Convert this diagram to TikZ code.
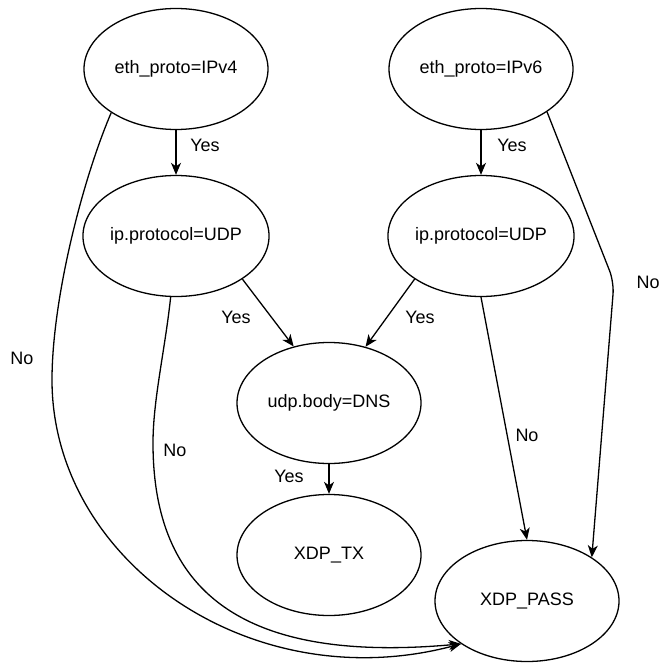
\documentclass[tikz,border=0pt]{standalone}
\usepackage{fontspec}
\setmainfont{Liberation Sans}
\usetikzlibrary{shapes.geometric,arrows.meta}
\begin{document}
\begin{tikzpicture}[x=1pt,y=-1pt,
  stnode/.style={ellipse, draw, line width=1.3pt, minimum width=184pt, minimum height=121pt, inner sep=0pt, font=\fontsize{18}{21}\selectfont, fill=white},
  arr/.style={line width=1.3pt, -{Stealth[length=12pt,width=10pt,inset=3.5pt]}},
  lbl/.style={font=\fontsize{18}{21}\selectfont, inner sep=0pt}]
\useasboundingbox[fill=white] (0,0) rectangle (660,666);

\node[stnode] (e4) at (176,69) {eth\_proto=IPv4};
\node[stnode] (e6) at (481,69) {eth\_proto=IPv6};
\node[stnode] (ipL) at (176,236) {ip.protocol=UDP};
\node[stnode] (ipR) at (481,236) {ip.protocol=UDP};
\node[stnode] (dns) at (329,403) {udp.body=DNS};
\node[stnode] (tx) at (329,555) {XDP\_TX};
\node[stnode] (pass) at (527,601) {XDP\_PASS};

% Yes edges
\draw[arr] (e4.south) -- (ipL.north);
\draw[arr] (e6.south) -- (ipR.north);
\draw[arr] (ipL.327.5) -- (dns.122.5);
\draw[arr] (ipR.213.5) -- (dns.57);
\draw[arr] (dns.south) -- (tx.north);

% No edges
\draw[arr] (ipR.south) -- (pass.north);
\draw[arr, rounded corners=12pt] (e6.327) -- (614,282) -- (pass.34);
\draw[arr] (e4.214.5) .. controls (82,181) and (52,300) .. (52,380)
  .. controls (52,560) and (250,700) .. (pass.213);
\draw[arr] (ipL.265) .. controls (165,350) and (153,400) .. (153,443)
  .. controls (153,590) and (240,664) .. (pass.213);

% labels
\node[lbl] (l1) at (205,145) {Yes};
\node[lbl] (l2) at (512,145) {Yes};
\node[lbl] (l3) at (236,317) {Yes};
\node[lbl] (l4) at (420,317) {Yes};
\node[lbl] (l5) at (289,476) {Yes};
\node[lbl] (l6) at (22,358) {No};
\node[lbl] (l7) at (175,450) {No};
\node[lbl] (l8) at (527,435) {No};
\node[lbl] (l9) at (648,282) {No};
\end{tikzpicture}
\end{document}
